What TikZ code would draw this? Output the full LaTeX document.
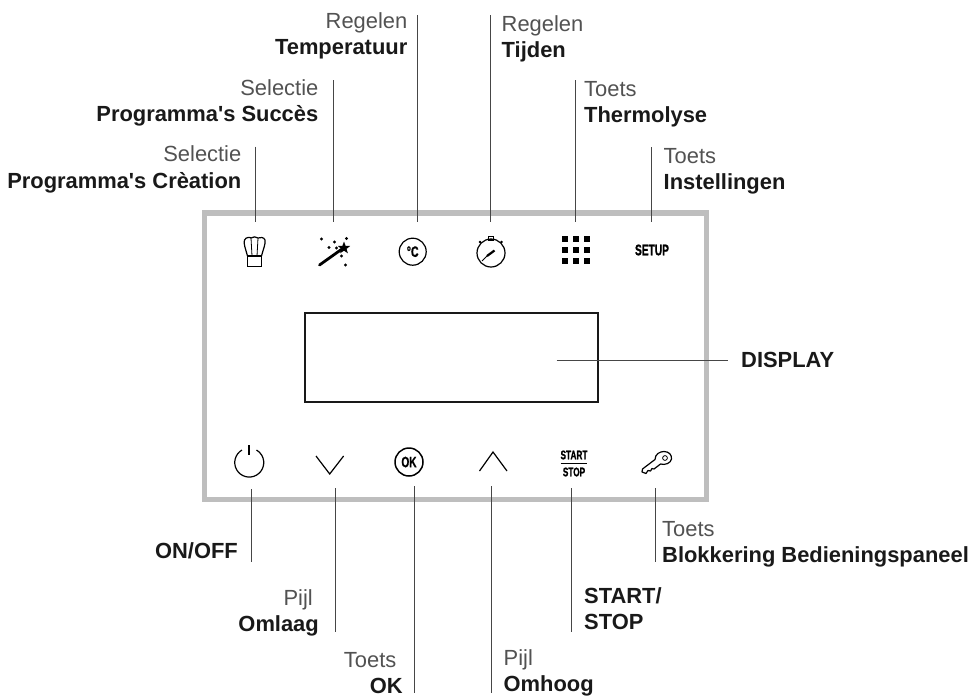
\documentclass[tikz,border=0pt]{standalone}
\usepackage{fontspec}
\usetikzlibrary{shapes.geometric}
\setmainfont{Liberation Sans}[Ligatures=TeXOff]
\newfontfamily\heavyfont{Liberation Sans}[BoldFeatures={FakeBold=1.2}]
\definecolor{frameGray}{RGB}{190,190,190}
\definecolor{thinGray}{RGB}{70,70,70}
\tikzset{
  lead/.style={draw=thinGray, line width=1pt},
  icon/.style={draw=black, line width=1.2pt, fill=none},
  txt/.style={inner sep=0pt, font=\fontsize{21.9}{26.5}\selectfont, text=black!68},
  ltxt/.style={txt, anchor=north east, align=right},
  rtxt/.style={txt, anchor=north west, align=left},
  btn/.style={inner sep=0pt, font=\bfseries\heavyfont},
}
\newcommand{\kop}[1]{\textcolor{black!90}{\bfseries #1}}
\begin{document}
\begin{tikzpicture}[x=1pt,y=-1pt]
\useasboundingbox (0,0) rectangle (979,699);
% panel
\draw [draw=frameGray, line width=5.5pt] (204.5,213) rectangle (706.5,499.5);
\node [draw=black!90, line width=2pt, minimum width=293pt, minimum height=89pt, inner sep=0pt] (display) at (451.2,357.8) {};
% top labels
\node [ltxt] (chef) at (241.5,145.7) {Selectie\\\kop{Programma's Crèation}};
\node [ltxt] (wand) at (318.5,79) {Selectie\\\kop{Programma's Succès}};
\node [ltxt] (temp) at (407.5,12.3) {Regelen\\\kop{Temperatuur}};
\node [rtxt] (timer) at (501.5,15) {Regelen\\\kop{Tijden}};
\node [rtxt] (therm) at (584,81) {Toets\\\kop{Thermolyse}};
\node [rtxt] (setup) at (663.5,148) {Toets\\\kop{Instellingen}};
\node [txt, anchor=base west] (disp) at (741,367.7) {\kop{DISPLAY}};
% bottom labels
\node [ltxt] (onoff) at (238,542) {\kop{ON/OFF}};
\node [ltxt] (down) at (319,589) {Pijl\hspace*{6pt}\\\kop{Omlaag}};
\node [ltxt] (ok) at (403,652) {Toets\hspace*{6.5pt}\\\kop{OK}};
\node [rtxt] (up) at (503.5,649) {Pijl\\\kop{Omhoog}};
\node [rtxt] (start) at (584,587) {\kop{START/}\\\kop{STOP}};
\node [rtxt] (key) at (662,521) {Toets\\\kop{Blokkering Bedieningspaneel}};
% line ends
\coordinate (c1) at (255.7,146.7);
\coordinate (c2) at (255.7,222);
\coordinate (w1) at (333,80);
\coordinate (w2) at (333,222);
\coordinate (t1) at (417.7,15);
\coordinate (t2) at (417.7,222);
\coordinate (k1) at (490,15);
\coordinate (k2) at (490,222);
\coordinate (g1) at (575,80);
\coordinate (g2) at (575,222);
\coordinate (s1) at (651.7,147);
\coordinate (s2) at (651.7,222);
\coordinate (d1) at (556.7,360.5);
\coordinate (d2) at (728.3,360.5);
\coordinate (p1) at (251,489);
\coordinate (p2) at (251,562);
\coordinate (o1) at (335,488);
\coordinate (o2) at (335,632);
\coordinate (q1) at (414.5,486);
\coordinate (q2) at (414.5,692.7);
\coordinate (u1) at (491.8,486);
\coordinate (u2) at (491.8,692.7);
\coordinate (r1) at (571.7,488);
\coordinate (r2) at (571.7,632);
\coordinate (y1) at (655.7,488);
\coordinate (y2) at (655.7,562.3);
% leaders
\draw [lead] (c1) -- (c2);
\draw [lead] (w1) -- (w2);
\draw [lead] (t1) -- (t2);
\draw [lead] (k1) -- (k2);
\draw [lead] (g1) -- (g2);
\draw [lead] (s1) -- (s2);
\draw [lead] (d1) -- (d2);
\draw [lead] (p1) -- (p2);
\draw [lead] (o1) -- (o2);
\draw [lead] (q1) -- (q2);
\draw [lead] (u1) -- (u2);
\draw [lead] (r1) -- (r2);
\draw [lead] (y1) -- (y2);
% chef hat
\draw [icon] (247.5,256) -- (247.5,266.5) -- (261.5,266.5) -- (261.5,256) -- cycle;
\draw [icon] (247.5,256) .. controls (246,250) and (243,243) .. (244.5,240) .. controls (246,237) and (250,237) .. (251,238) .. controls (253,236.5) and (256,236.5) .. (258,238) .. controls (260,237) and (264,237) .. (265,240) .. controls (266,243) and (263,250) .. (261.5,256);
\draw [icon, line width=0.8pt] (251,238) -- (252,256) (258,238) -- (257,256);
% wand
\draw [draw=black, line width=2.8pt, line cap=round] (319.5,265) -- (342,249);
\node [star, star points=5, star point ratio=2.4, fill=black, inner sep=0pt, minimum size=13pt] (spark) at (344,248) {};
\foreach \px/\py in {321.5/239, 334.5/242, 346.5/238.5, 329/247.5, 336.5/248, 341.5/256, 345.5/265}
  \fill (\px,\py) circle (1.6pt);
% temperature
\node [circle, icon, minimum size=27pt, inner sep=0pt, font=\bfseries\heavyfont\fontsize{15}{15}\selectfont] (tbtn) at (412.7,251.7) {\scalebox{.7}[1]{°C}};
% timer
\node [circle, icon, minimum size=28pt, inner sep=0pt] (kbtn) at (491,253) {};
\draw [icon] (488.5,240) rectangle (493.5,236.5);
\draw [icon] (481,243) -- (480,241.5) (501,243) -- (502,241.5);
\fill (480,242) circle (1.4pt) (501.5,242) circle (1.4pt);
\draw [draw=black, line width=0.8pt] (482,261) -- (488,255);
\draw [draw=black, line width=2.2pt] (487,256) -- (494.5,250.5);
% grid
\foreach \gx in {565,576,587}
  \foreach \gy in {239,250,261}
    \fill (\gx-3.4,\gy-3.4) rectangle (\gx+3.4,\gy+3.4);
\node [btn] (sbtn) at (652,250) {\fontsize{15.4}{15.4}\selectfont\scalebox{.66}[1]{SETUP}};
% power
\draw [icon] (242,450) arc (120:420:14.5pt);
\draw [icon] (249,445) -- (249,455);
% arrows
\draw [icon] (316,456) -- (329.7,474) -- (343.6,456);
\draw [icon] (479.5,471) -- (493,452) -- (507,471);
% ok
\node [circle, draw=black, line width=1.5pt, minimum size=28pt, inner sep=0pt, font=\bfseries\heavyfont\fontsize{15}{15}\selectfont] (okbtn) at (409,462) {\scalebox{.67}[1]{OK}};
% start stop
\node [btn] (sta) at (574,455) {\fontsize{12.5}{12.5}\selectfont\scalebox{.66}[1]{START}};
\node [btn] (sto) at (574,472) {\fontsize{12.5}{12.5}\selectfont\scalebox{.66}[1]{STOP}};
\draw [draw=black, line width=1pt] (560.5,463.5) -- (587,463.5);
% key
\draw [icon, line join=round] (642,472) -- (642.5,469) -- (655,459.5) .. controls (655,454) and (660,451.5) .. (664,451.5) .. controls (669,451.5) and (672,455) .. (671.5,459) .. controls (671,463) and (665,465.5) .. (660.5,464) -- (654,469) -- (652,468.5) -- (650.5,471) -- (648,470.5) -- (646,473.5) -- cycle;
\draw [icon, line width=0.8pt] (665,458) circle (2.4pt);
\end{tikzpicture}
\end{document}
